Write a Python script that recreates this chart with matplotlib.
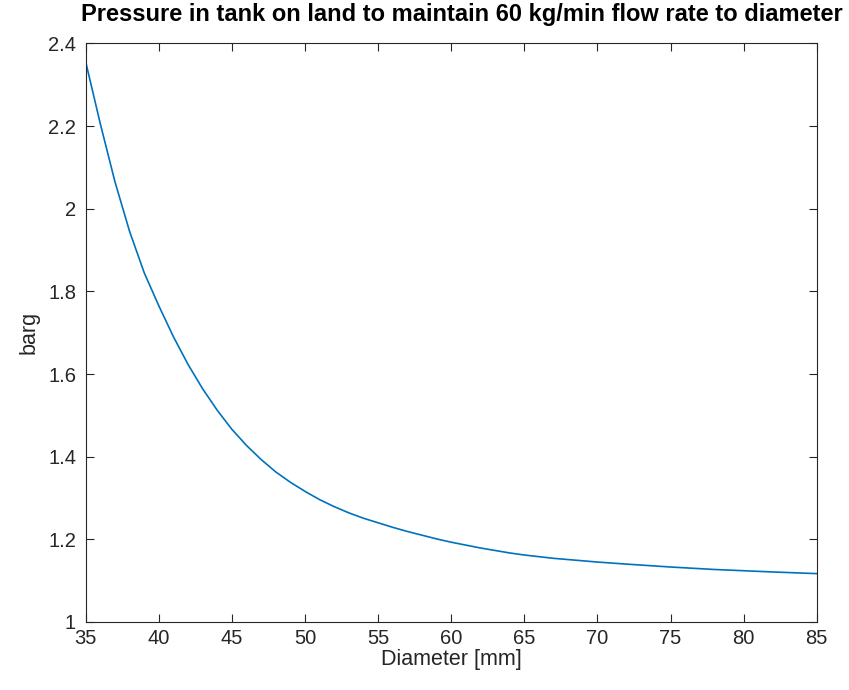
import matplotlib
matplotlib.use('Agg')
import matplotlib.pyplot as plt

# values
diameter_mm = [35, 36, 37, 38, 39, 40, 41, 42, 43, 44, 45, 46, 47, 48, 49, 50,
               51, 52, 53, 54, 55, 56, 57, 58, 59, 60, 61, 62, 63, 64, 65,
               66, 67, 68, 70, 72, 75, 78, 80, 82, 85]
pressure_barg = [2.355, 2.205, 2.065, 1.945, 1.845, 1.765, 1.690, 1.623, 1.564,
                 1.512, 1.466, 1.427, 1.393, 1.363, 1.338, 1.316,
                 1.296, 1.279, 1.264, 1.251, 1.240, 1.229, 1.219, 1.210, 1.201,
                 1.193, 1.186, 1.179, 1.173, 1.167, 1.162,
                 1.158, 1.154, 1.151, 1.145, 1.140, 1.133, 1.127, 1.124, 1.121,
                 1.117]

xticks = list(range(35, 86, 5))
yticks = [1, 1.2, 1.4, 1.6, 1.8, 2, 2.2, 2.4]
ytick_labels = ['1', '1.2', '1.4', '1.6', '1.8', '2', '2.2', '2.4']

plt.rcParams['font.family'] = ['Liberation Sans', 'DejaVu Sans']
dark = '#262626'

fig = plt.figure(figsize=(8.49, 6.9), dpi=100)
ax = fig.add_axes([0.101, 0.0986, 0.861, 0.8384])

ax.plot(diameter_mm, pressure_barg, color='#0072BD', lw=1.2)

ax.set_xlim(35, 85)
ax.set_ylim(1, 2.4)
ax.set_xticks(xticks)
ax.set_yticks(yticks)
ax.set_yticklabels(ytick_labels)
ax.tick_params(direction='in', top=True, right=True, length=6, width=0.8,
               labelsize=14.5, colors=dark, pad=7)
ax.tick_params(axis='x', pad=5)
for s in ax.spines.values():
    s.set_color(dark)
    s.set_linewidth(0.8)

ax.set_xlabel('Diameter [mm]', fontsize=15.5, color=dark, labelpad=1)
ax.set_ylabel('barg', fontsize=15.5, color=dark, labelpad=6)
ax.set_title('Pressure in tank on land to maintain 60 kg/min flow rate to diameter',
             fontsize=17, fontweight='bold', color='black', pad=16, x=0.515)

fig.savefig('out.png', dpi=100)
